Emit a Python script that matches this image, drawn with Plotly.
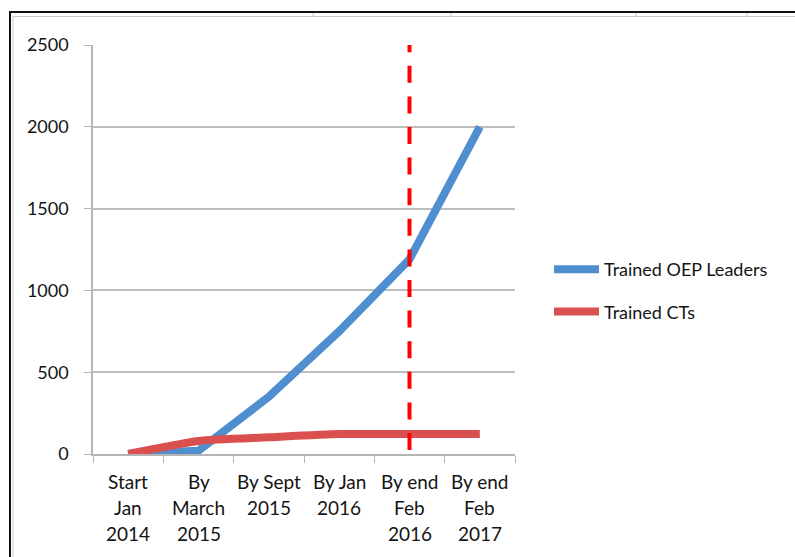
import plotly.graph_objects as go

categories = ["Start<br>Jan<br>2014", "By<br>March<br>2015", "By Sept<br>2015",
              "By Jan<br>2016", "By end<br>Feb<br>2016", "By end<br>Feb<br>2017"]
oep_leaders = [0, 20, 350, 750, 1190, 2000]
trained_cts = [0, 80, 102, 122, 122, 122]
marker_category = "By end<br>Feb<br>2016"
y_ticks = [0, 500, 1000, 1500, 2000, 2500]

FONT = "Lato, Carlito, Calibri, sans-serif"
TXT = "#141414"
W, H = 795, 557
L, R, T, B = 93, 515, 45, 454

def px_x(p):
    return (p - L) / (R - L)

def px_y(p):
    return (B - p) / (B - T)

fig = go.Figure()
fig.add_trace(go.Scatter(
    x=categories, y=oep_leaders, mode="lines", name="Trained OEP Leaders",
    line=dict(color="#4F8FCF", width=8), legendgroup="a"))
fig.add_trace(go.Scatter(
    x=categories, y=trained_cts, mode="lines", name="Trained CTs",
    line=dict(color="#D9504E", width=8, shape="spline", smoothing=0.6),
    legendgroup="b"))

shapes = [
    # dashed marker line
    dict(type="line", xref="x", yref="y", x0=marker_category, x1=marker_category,
         y0=0, y1=2500, line=dict(color="#FF0000", width=4, dash="0px,4px,17px,9.6px"),
         layer="above"),
    # screenshot frame
    dict(type="line", xref="paper", yref="paper", x0=px_x(9), x1=px_x(800),
         y0=px_y(12), y1=px_y(12), line=dict(color="#111111", width=2)),
    dict(type="line", xref="paper", yref="paper", x0=px_x(10), x1=px_x(10),
         y0=px_y(12), y1=px_y(560), line=dict(color="#111111", width=2)),
    dict(type="line", xref="paper", yref="paper", x0=px_x(13), x1=px_x(800),
         y0=px_y(16.5), y1=px_y(16.5), line=dict(color="#C8C8C8", width=1)),
    dict(type="line", xref="paper", yref="paper", x0=px_x(13), x1=px_x(13),
         y0=px_y(16), y1=px_y(560), line=dict(color="#C8C8C8", width=1)),
]
for cx in [313, 451, 636, 747]:
    shapes.append(dict(type="line", xref="paper", yref="paper", x0=px_x(cx), x1=px_x(cx),
                       y0=px_y(13), y1=px_y(16), line=dict(color="#C8C8C8", width=1)))

# category labels, one annotation per text line (Excel-like line spacing)
annotations = []
for cat in categories:
    for j, part in enumerate(cat.split("<br>")):
        annotations.append(dict(x=cat, xref="x", y=px_y(481 + 26 * j), yref="paper",
                                text=part, showarrow=False, xanchor="center",
                                yanchor="middle",
                                font=dict(family=FONT, size=19, color=TXT)))

fig.update_layout(
    width=W, height=H,
    margin=dict(l=L, r=W - R, t=T, b=H - B),
    paper_bgcolor="white", plot_bgcolor="white",
    font=dict(family=FONT, size=18, color=TXT),
    showlegend=True,
    legend=dict(x=px_x(549), y=px_y(251), xanchor="left", yanchor="top",
                tracegroupgap=16, itemwidth=45,
                font=dict(family=FONT, size=18, color=TXT),
                bgcolor="rgba(0,0,0,0)"),
    shapes=shapes,
    annotations=annotations,
    xaxis=dict(type="category", showgrid=False, showline=True, linecolor="#B5B5B5",
               linewidth=1.5, ticks="outside", ticklen=7, tickcolor="#B5B5B5",
               tickson="boundaries", showticklabels=False,
               range=[-0.5, 5.5], fixedrange=True),
    yaxis=dict(range=[0, 2500], tickvals=y_ticks, showgrid=True, gridcolor="#BDBDBD",
               gridwidth=1.5, showline=True, linecolor="#B5B5B5", linewidth=1.5,
               ticks="outside", ticklen=7, tickcolor="#B5B5B5", zeroline=False,
               tickfont=dict(family=FONT, size=18, color=TXT),
               ticklabelstandoff=12),
)

fig.write_html("out.html")
